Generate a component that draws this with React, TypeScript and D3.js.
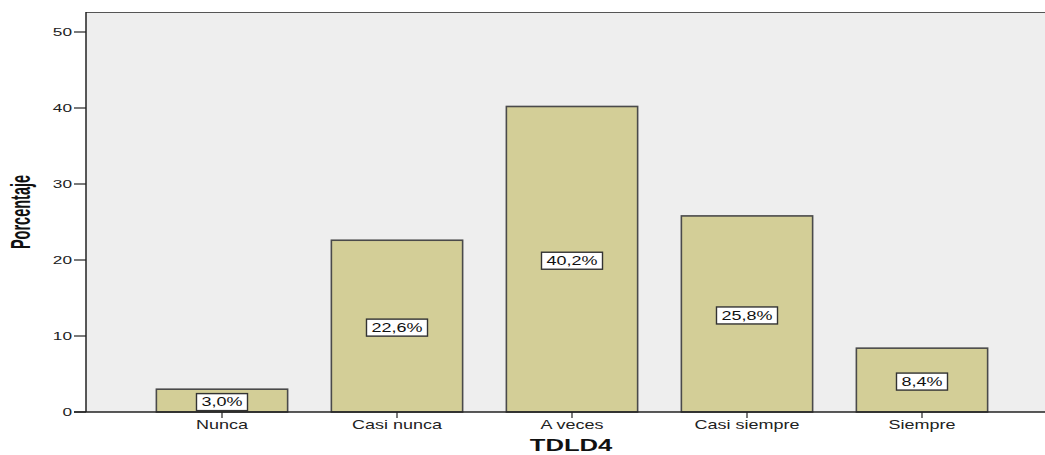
import React, { useEffect, useRef } from "react";
import * as d3 from "d3";

const categories = ["Nunca", "Casi nunca", "A veces", "Casi siempre", "Siempre"];
const values = [3.0, 22.6, 40.2, 25.8, 8.4];
const labels = ["3,0%", "22,6%", "40,2%", "25,8%", "8,4%"];
const yTicks = [0, 10, 20, 30, 40, 50];

const W = 1045;
const H = 455;
const SX = 1.5;
const FONT = "'Liberation Sans', Arial, sans-serif";

export default function App() {
  const ref = useRef<SVGSVGElement | null>(null);

  useEffect(() => {
    const svg = d3.select(ref.current);
    svg.selectAll("*").remove();

    const left = 86, top = 12, bottom = 412;
    const y = d3.scaleLinear().domain([0, 50]).range([bottom, 32]);
    const x = d3.scaleBand<string>().domain(categories).range([134.5, 1009.5]).paddingInner(0.25).paddingOuter(0.125);

    // plot background
    svg.append("rect").attr("x", left).attr("y", top).attr("width", W - left).attr("height", bottom - top).attr("fill", "#eeeeee");
    svg.append("line").attr("x1", left).attr("x2", W).attr("y1", top + 0.5).attr("y2", top + 0.5).attr("stroke", "#555").attr("stroke-width", 1.2);

    // bars
    const g = svg.append("g");
    categories.forEach((c, i) => {
      const bx = x(c)!;
      const by = y(values[i]);
      g.append("rect")
        .attr("x", bx).attr("y", by)
        .attr("width", x.bandwidth()).attr("height", bottom - by)
        .attr("fill", "#d3ce97").attr("stroke", "#4a4a4a").attr("stroke-width", 1.6);
    });

    // labels
    categories.forEach((c, i) => {
      const cx = x(c)! + x.bandwidth() / 2;
      const cy = (y(values[i]) + bottom) / 2 + 1.5;
      const lg = svg.append("g");
      const t = lg.append("text")
        .attr("transform", `translate(${cx},${cy + 4.3}) scale(${SX},1)`)
        .attr("text-anchor", "middle")
        .attr("font-family", FONT).attr("font-size", 12).attr("fill", "#111")
        .text(labels[i]);
      const tw = (t.node() as SVGTextElement).getComputedTextLength() * SX;
      lg.insert("rect", "text")
        .attr("x", cx - tw / 2 - 5).attr("y", cy - 8.5)
        .attr("width", tw + 10).attr("height", 17)
        .attr("fill", "#ffffff").attr("stroke", "#333").attr("stroke-width", 1.4);
    });

    // axes lines
    svg.append("line").attr("x1", left).attr("x2", left).attr("y1", top).attr("y2", bottom).attr("stroke", "#222").attr("stroke-width", 1.5);
    svg.append("line").attr("x1", 74).attr("x2", W).attr("y1", bottom).attr("y2", bottom).attr("stroke", "#222").attr("stroke-width", 1.3);

    // y ticks
    yTicks.forEach((v) => {
      const ty = y(v);
      svg.append("line").attr("x1", 74).attr("x2", left).attr("y1", ty).attr("y2", ty).attr("stroke", "#222").attr("stroke-width", 1.2);
      svg.append("text")
        .attr("transform", `translate(72,${ty + 4}) scale(${SX},1)`)
        .attr("text-anchor", "end")
        .attr("font-family", FONT).attr("font-size", 11.5).attr("fill", "#222")
        .text(String(v));
    });

    // x ticks
    categories.forEach((c) => {
      const cx = x(c)! + x.bandwidth() / 2;
      svg.append("line").attr("x1", cx).attr("x2", cx).attr("y1", bottom).attr("y2", bottom + 6).attr("stroke", "#222").attr("stroke-width", 1.2);
      svg.append("text")
        .attr("transform", `translate(${cx},429) scale(${SX},1)`)
        .attr("text-anchor", "middle")
        .attr("font-family", FONT).attr("font-size", 12).attr("fill", "#222")
        .text(c);
    });

    // axis titles
    svg.append("text")
      .attr("transform", `translate(571,451) scale(1.6,1)`)
      .attr("text-anchor", "middle")
      .attr("font-family", FONT).attr("font-size", 16).attr("font-weight", "bold").attr("fill", "#111")
      .text("TDLD4");
    svg.append("text")
      .attr("transform", `translate(30,212) scale(1.9,1) rotate(-90)`)
      .attr("text-anchor", "middle")
      .attr("font-family", FONT).attr("font-size", 14.5).attr("font-weight", "bold").attr("fill", "#111")
      .text("Porcentaje");
  }, []);

  return (
    <svg ref={ref} width={W} height={H} style={{ position: "absolute", left: 0, top: 0, background: "#fff" }} />
  );
}
